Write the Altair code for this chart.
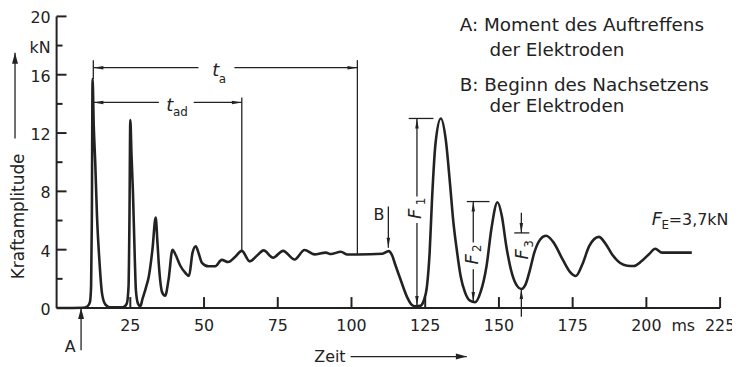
import altair as alt
import pandas as pd

# ---------------- data ----------------
t_ms = [0, 9, 10.5, 11.3, 11.7, 11.95, 12.2, 12.6, 13.1, 13.7, 14.5, 15.4, 16.5, 18,
        22.5, 23.8, 24.4, 24.7, 25.0, 25.4, 25.9, 26.5, 26.9, 27.6, 28.4, 29.1, 30.3,
        31.3, 32.5, 33.6, 34.2, 34.7, 35.8, 36.8, 38.0, 39.3, 40.3, 42.0, 43.7, 44.9,
        46.1, 47.2, 48.1, 49.3, 51.5, 53.8, 56.0, 58.2, 60.5, 62.8, 65.5, 68.0, 70.2,
        73.4, 76.8, 80.7, 84.1, 87.4, 91.3, 93.0, 96.4, 98.6, 102, 110.5, 112.6, 113.8,
        114.8, 116.6, 118.9, 120.5, 121.5, 123.3, 124.5, 125.6, 126.5, 127.3, 128.5,
        130.3, 132.0, 133.4, 134.5, 135.7, 137.0, 138.5, 140.2, 141.9, 143.8, 145.8,
        147.5, 149.5, 151.0, 152.5, 154.5, 156.2, 157.6, 159.0, 160.5, 162.0, 164.0,
        166.0, 168.5, 171.6, 174.0, 176.1, 178.3, 180.6, 183.9, 186.0, 188.4, 191.0,
        193.5, 195.7, 198.3, 200.8, 203.0, 205.3, 215.4]
force_kn = [0, 0.02, 0.12, 0.4, 1.5, 6, 15.7, 12.5, 10, 6.3, 3.3, 1.0, 0.25, 0.05,
            0.05, 0.3, 1.5, 6, 12.9, 10.5, 7.9, 3.5, 1.2, 0.3, 0.12, 0.6, 1.4,
            2.2, 4.0, 6.2, 4.5, 2.9, 1.07, 0.84, 2.0, 4.0, 3.67, 2.88, 2.4, 2.2,
            3.8, 4.24, 3.8, 3.1, 2.86, 2.86, 3.3, 3.15, 3.5, 3.92, 3.2, 3.6, 3.95,
            3.45, 3.92, 3.33, 3.98, 3.68, 3.8, 3.7, 3.86, 3.67, 3.67, 3.72, 3.9, 3.6,
            3.0, 1.97, 0.73, 0.2, 0.12, 0.15, 0.5, 1.5, 3.8, 7.4, 11.3,
            13.0, 11.5, 8.55, 6.0, 4.0, 2.2, 1.07, 0.5, 0.39, 1.1, 2.88,
            5.5, 7.25, 6.3, 4.24, 2.3, 1.5, 1.3, 1.6, 2.6, 3.8, 4.7,
            4.95, 4.5, 3.33, 2.5, 2.2, 3.0, 4.24, 4.88, 4.45, 3.67, 3.1,
            2.9, 2.88, 3.2, 3.67, 4.06, 3.8, 3.8]

x_tick_values = [25, 50, 75, 100, 125, 150, 175, 200, 225]
x_tick_labels = ["25", "50", "75", "100", "125", "150", "175", "200", "225"]
x_unit = ["ms"]
x_unit_pos = [212.5]
y_label_values = [0, 4, 8, 12, 16, 18, 20]
y_label_texts = ["0", "4", "8", "12", "16", "kN", "20"]
y_major_ticks = [4, 8, 12, 16, 20]
y_minor_ticks = [2, 6, 10, 14, 18]

# dimension / annotation lines (t1, F1, t2, F2)
seg_t1 = [12.45, 12.5, 60.3, 102, 12.5, 46.5, 62.8, 8.3, 112.5,
          122.2, 122.2, 119.4, 141.3, 141.3, 139.1, 157.6, 155.2, 157.6, 99.7, -14.1]
seg_f1 = [17.0, 16.48, 16.48, 17.0, 14.1, 14.1, 14.44, -2.9, 6.96,
          13.0, 5.83, 13.0, 7.3, 2.65, 7.3, 6.53, 5.15, -0.6, -3.33, 11.63]
seg_t2 = [12.45, 48.1, 102, 102, 34.7, 62.8, 62.8, 8.3, 112.5,
          122.2, 122.2, 127.8, 141.3, 141.3, 146.8, 157.6, 160.3, 157.6, 139.1, -14.1]
seg_f2 = [15.7, 16.48, 16.48, 3.67, 14.1, 14.1, 3.9, 0, 4.13,
          7.64, 0.15, 13.0, 4.49, 0.41, 7.3, 5.15, 5.15, 1.3, -3.33, 17.5]

# axis lines (t1, F1, t2, F2)
axis_t1 = [0, 0]
axis_f1 = [0, 0]
axis_t2 = [225, 0]
axis_f2 = [0, 20]

# arrowheads (tip position and direction)
arr_t = [12.5, 102.0, 12.5, 62.8, 8.3, 112.5, 122.2, 122.2, 141.3, 141.3,
         157.6, 157.6, 139.1, -14.1]
arr_f = [16.48, 16.48, 14.1, 14.1, 0, 4.13, 13.0, 0.15, 7.3, 0.41,
         5.15, 1.3, -3.33, 17.5]
arr_dir = ["left", "right", "left", "right", "upw", "down", "up", "down", "up", "down",
           "down", "up", "rightw", "upw"]

legend_lines = ["A: Moment des Auftreffens", "der Elektroden",
                "B: Beginn des Nachsetzens", "der Elektroden"]
legend_t = [136.7, 146.8, 136.7, 146.8]
legend_f = [18.98, 17.28, 14.85, 13.42]

# ---------------- frames ----------------
curve = pd.DataFrame({"t": t_ms, "F": force_kn})
segs = pd.DataFrame({"t": seg_t1, "F": seg_f1, "t2": seg_t2, "F2": seg_f2})
axes = pd.DataFrame({"t": axis_t1, "F": axis_f1, "t2": axis_t2, "F2": axis_f2})
arrows = pd.DataFrame({"t": arr_t, "F": arr_f, "dir": arr_dir})
legend_df = pd.DataFrame({"t": legend_t, "F": legend_f, "txt": legend_lines})
xlab = pd.DataFrame({"t": x_tick_values + x_unit_pos, "txt": x_tick_labels + x_unit})
ylab = pd.DataFrame({"F": y_label_values, "txt": y_label_texts})

W, H = 669, 294
INK = "#222222"
FONT = "DejaVu Sans"

xs = alt.Scale(domain=[0, 225], nice=False, zero=False)
ys = alt.Scale(domain=[0, 20], nice=False, zero=False)


def X():
    return alt.X("t:Q", scale=xs, axis=None)


def Y():
    return alt.Y("F:Q", scale=ys, axis=None)


curve_layer = alt.Chart(curve).mark_line(
    color=INK, strokeWidth=2.6, interpolate="monotone"
).encode(x=X(), y=Y())

axis_layer = alt.Chart(axes).mark_rule(color=INK, strokeWidth=2).encode(
    x=X(), y=Y(), x2="t2:Q", y2="F2:Q"
)

xt = alt.Chart(pd.DataFrame({"t": x_tick_values})).mark_rule(
    color=INK, strokeWidth=2
).encode(x=X(), y=alt.value(H), y2=alt.value(H - 11))

ymaj = alt.Chart(pd.DataFrame({"F": y_major_ticks})).mark_rule(
    color=INK, strokeWidth=2
).encode(y=Y(), x=alt.value(0), x2=alt.value(10))

ymin = alt.Chart(pd.DataFrame({"F": y_minor_ticks})).mark_rule(
    color=INK, strokeWidth=2
).encode(y=Y(), x=alt.value(0), x2=alt.value(6))

xlab_layer = alt.Chart(xlab).mark_text(
    align="center", baseline="middle", font=FONT, fontSize=16, color=INK, dy=18
).encode(x=X(), y=alt.value(H), text="txt:N")

ylab_layer = alt.Chart(ylab).mark_text(
    align="right", baseline="middle", font=FONT, fontSize=16, color=INK, dx=-6, dy=2
).encode(y=Y(), x=alt.value(0), text="txt:N")

seg_layer = alt.Chart(segs).mark_rule(color=INK, strokeWidth=1.3).encode(
    x=X(), y=Y(), x2="t2:Q", y2="F2:Q"
)

shape_dom = ["up", "down", "left", "right", "upw", "rightw"]
shape_rng = [
    "M0,0L-0.35,2L0.35,2Z",
    "M0,0L-0.35,-2L0.35,-2Z",
    "M0,0L2,-0.35L2,0.35Z",
    "M0,0L-2,-0.35L-2,0.35Z",
    "M0,0L-0.6,2.2L0.6,2.2Z",
    "M0,0L-2.2,-0.6L-2.2,0.6Z",
]
arrow_layer = alt.Chart(arrows).mark_point(
    filled=True, color=INK, opacity=1, size=100, strokeWidth=0
).encode(
    x=X(), y=Y(),
    shape=alt.Shape("dir:N", scale=alt.Scale(domain=shape_dom, range=shape_rng), legend=None),
)

legend_layer = alt.Chart(legend_df).mark_text(
    align="left", baseline="alphabetic", font=FONT, fontSize=18.5, color=INK
).encode(x=X(), y=Y(), text="txt:N")

# italic symbols (unrotated)
ital = pd.DataFrame({"t": [54.0, 38.4, 203.6], "F": [16.26, 13.84, 6.05], "txt": ["t", "t", "F"]})
ital_layer = alt.Chart(ital).mark_text(
    align="center", baseline="middle", font=FONT, fontSize=18, fontStyle="italic", color=INK
).encode(x=X(), y=Y(), text="txt:N")

subs = pd.DataFrame({"t": [56.2, 42.0, 206.4], "F": [15.72, 13.42, 5.72], "txt": ["a", "ad", "E"]})
subs_layer = alt.Chart(subs).mark_text(
    align="center", baseline="middle", font=FONT, fontSize=12, color=INK
).encode(x=X(), y=Y(), text="txt:N")

plainc = pd.DataFrame({"t": [4.6, 109.3], "F": [-2.66, 6.4], "txt": ["A", "B"]})
plainc_layer = alt.Chart(plainc).mark_text(
    align="center", baseline="middle", font=FONT, fontSize=16, color=INK
).encode(x=X(), y=Y(), text="txt:N")

plainl = pd.DataFrame({"t": [207.6, 87.4], "F": [6.05, -3.33], "txt": ["=3,7kN", "Zeit"]})
plainl_layer = alt.Chart(plainl).mark_text(
    align="left", baseline="middle", font=FONT, fontSize=16, color=INK
).encode(x=X(), y=Y(), text="txt:N")

rot_f = pd.DataFrame({"t": [122.0, 141.1, 158.2], "F": [6.45, 3.33, 3.67], "txt": ["F", "F", "F"]})
rot_f_layer = alt.Chart(rot_f).mark_text(
    align="center", baseline="middle", angle=270, font=FONT, fontSize=18,
    fontStyle="italic", color=INK
).encode(x=X(), y=Y(), text="txt:N")

rot_s = pd.DataFrame({"t": [123.6, 142.7, 160.1], "F": [7.3, 4.1, 4.4], "txt": ["1", "2", "3"]})
rot_s_layer = alt.Chart(rot_s).mark_text(
    align="center", baseline="middle", angle=270, font=FONT, fontSize=12, color=INK
).encode(x=X(), y=Y(), text="txt:N")

ytitle = pd.DataFrame({"t": [-12.8], "F": [1.97], "txt": ["Kraftamplitude"]})
ytitle_layer = alt.Chart(ytitle).mark_text(
    align="left", baseline="middle", angle=270, font=FONT, fontSize=17, color=INK
).encode(x=X(), y=Y(), text="txt:N")

chart = alt.layer(
    curve_layer, axis_layer, xt, ymaj, ymin, xlab_layer, ylab_layer, seg_layer,
    arrow_layer, legend_layer, ital_layer, subs_layer, plainc_layer, plainl_layer,
    rot_f_layer, rot_s_layer, ytitle_layer,
).properties(
    width=W, height=H,
    autosize=alt.AutoSizeParams(type="none"),
    padding={"left": 49, "top": 7, "right": 12, "bottom": 56},
    background="white",
).configure_view(stroke=None)

chart.save("out.html", embed_options={"renderer": "svg", "actions": False})
